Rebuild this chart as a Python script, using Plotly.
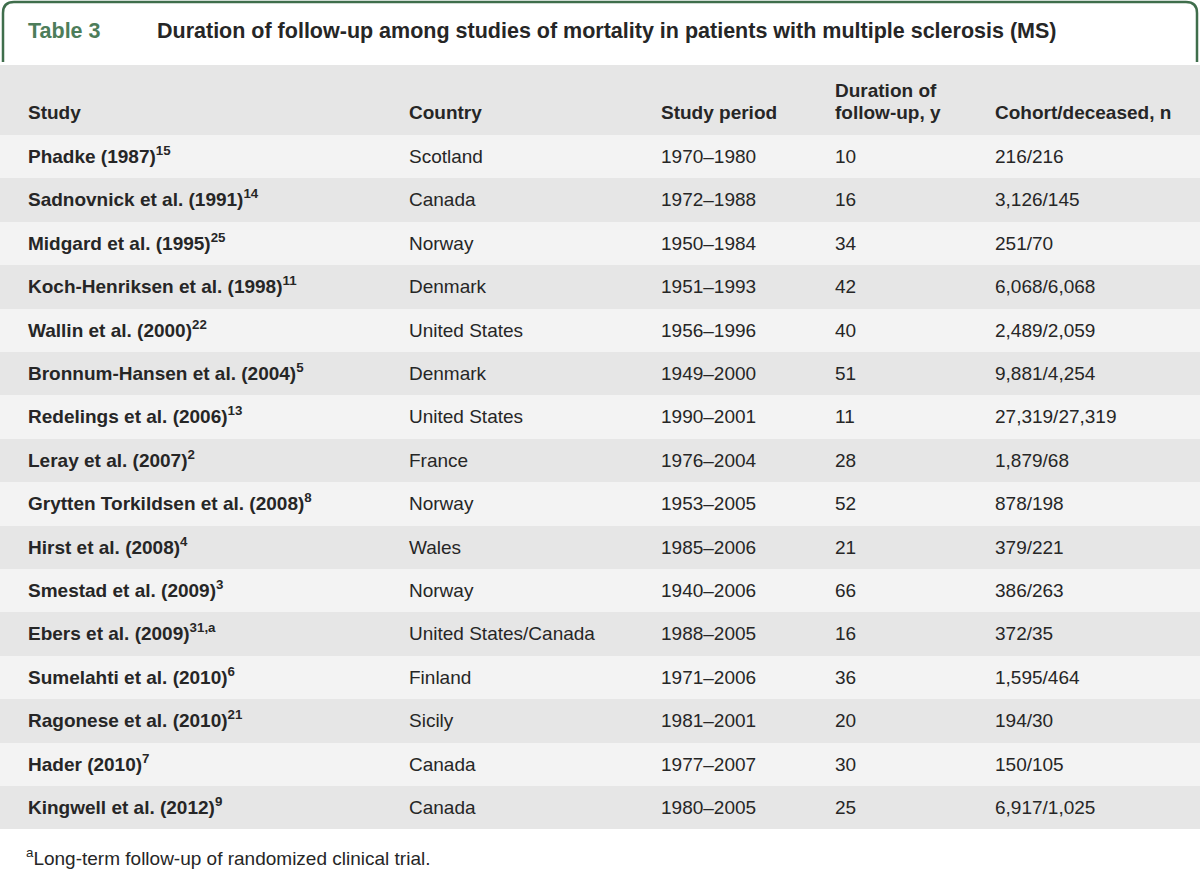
import plotly.graph_objects as go

W, H = 1200, 873

studies = ["Phadke (1987)", "Sadnovnick et al. (1991)", "Midgard et al. (1995)",
           "Koch-Henriksen et al. (1998)", "Wallin et al. (2000)", "Bronnum-Hansen et al. (2004)",
           "Redelings et al. (2006)", "Leray et al. (2007)", "Grytten Torkildsen et al. (2008)",
           "Hirst et al. (2008)", "Smestad et al. (2009)", "Ebers et al. (2009)",
           "Sumelahti et al. (2010)", "Ragonese et al. (2010)", "Hader (2010)", "Kingwell et al. (2012)"]
refs = ["15", "14", "25", "11", "22", "5", "13", "2", "8", "4", "3", "31,a", "6", "21", "7", "9"]
countries = ["Scotland", "Canada", "Norway", "Denmark", "United States", "Denmark", "United States",
             "France", "Norway", "Wales", "Norway", "United States/Canada", "Finland", "Sicily",
             "Canada", "Canada"]
periods = ["1970–1980", "1972–1988", "1950–1984", "1951–1993", "1956–1996", "1949–2000",
           "1990–2001", "1976–2004", "1953–2005", "1985–2006", "1940–2006", "1988–2005",
           "1971–2006", "1981–2001", "1977–2007", "1980–2005"]
durations = ["10", "16", "34", "42", "40", "51", "11", "28", "52", "21", "66", "16", "36", "20", "30", "25"]
cohorts = ["216/216", "3,126/145", "251/70", "6,068/6,068", "2,489/2,059", "9,881/4,254",
           "27,319/27,319", "1,879/68", "878/198", "379/221", "386/263", "372/35",
           "1,595/464", "194/30", "150/105", "6,917/1,025"]
headers = ["Study", "Country", "Study period", "Duration of<br>follow-up, y", "Cohort/deceased, n"]
title_label = "Table 3"
title_text = "Duration of follow-up among studies of mortality in patients with multiple sclerosis (MS)"
footnote = "<sup>a</sup>Long-term follow-up of randomized clinical trial."

FONT = "Liberation Sans"
TXT = "#262626"
GREEN_LINE = "#3f6e4c"
GREEN_TXT = "#4d7d5a"
LIGHT = "#f3f3f3"
DARK = "#e6e6e6"

n = len(studies)
study_cells = ["<b>%s<sup>%s</sup></b>" % (s, r) for s, r in zip(studies, refs)]


def pad_sup(vals):
    return ["%s<sup>\u00a0</sup>" % v for v in vals]


row_fill = [LIGHT if i % 2 == 0 else DARK for i in range(n)]
colw = [20, 381, 252, 174, 160, 213]
col_x = [26, 407, 659, 833, 993]

table_top = 65
row_h = 43.4
hdr_h = 70
table_bottom = table_top + hdr_h + n * row_h

fig = go.Figure(go.Table(
    columnwidth=colw,
    columnorder=list(range(6)),
    domain=dict(x=[0, 1], y=[1 - (table_bottom + 4) / H, 1 - table_top / H]),
    header=dict(values=[""] * 6, fill_color=DARK, align="left", height=hdr_h,
                line=dict(width=0, color=DARK),
                font=dict(family=FONT, size=19, color=TXT)),
    cells=dict(values=[[""] * n, study_cells, pad_sup(countries), pad_sup(periods),
                       pad_sup(durations), pad_sup(cohorts)],
               fill_color=[row_fill] * 6, align="left", height=row_h,
               line=dict(width=0, color=DARK),
               font=dict(family=FONT, size=19, color=TXT)),
))


def px(x, y):
    return x / W, 1 - y / H


# header labels (bottom-aligned lines)
for hx, h in zip(col_x, headers):
    lines = h.split("<br>")
    for k, line in enumerate(reversed(lines)):
        fig.add_annotation(text="<b>%s</b>" % line, x=hx / W, y=1 - (113 - 22 * k) / H,
                           xref="paper", yref="paper", xanchor="left", yanchor="middle",
                           showarrow=False, font=dict(family=FONT, size=19, color=TXT))

r = 11
x0, x1, yt, yb = 3, 1197, 2, 62
path = "M %f,%f L %f,%f Q %f,%f %f,%f L %f,%f Q %f,%f %f,%f L %f,%f" % (
    *px(x0, yb), *px(x0, yt + r), *px(x0, yt), *px(x0 + r, yt), *px(x1 - r, yt),
    *px(x1, yt), *px(x1, yt + r), *px(x1, yb))
fig.add_shape(type="path", path=path, xref="paper", yref="paper",
              line=dict(color=GREEN_LINE, width=2.5))

fig.add_annotation(text="<b>%s</b>" % title_label, x=26 / W, y=1 - 31 / H, xref="paper", yref="paper",
                   xanchor="left", yanchor="middle", showarrow=False,
                   font=dict(family=FONT, size=21.5, color=GREEN_TXT))
fig.add_annotation(text="<b>%s</b>" % title_text, x=155 / W, y=1 - 31 / H, xref="paper", yref="paper",
                   xanchor="left", yanchor="middle", showarrow=False,
                   font=dict(family=FONT, size=21.5, color=TXT))
fig.add_annotation(text=footnote, x=24 / W, y=1 - 857 / H, xref="paper", yref="paper",
                   xanchor="left", yanchor="middle", showarrow=False,
                   font=dict(family=FONT, size=19, color=TXT))

fig.update_layout(width=W, height=H, margin=dict(l=0, r=0, t=0, b=0),
                  paper_bgcolor="white", plot_bgcolor="white")
fig.write_html("out.html", config={"displayModeBar": False},
               post_script="document.body.style.margin='0px';")
